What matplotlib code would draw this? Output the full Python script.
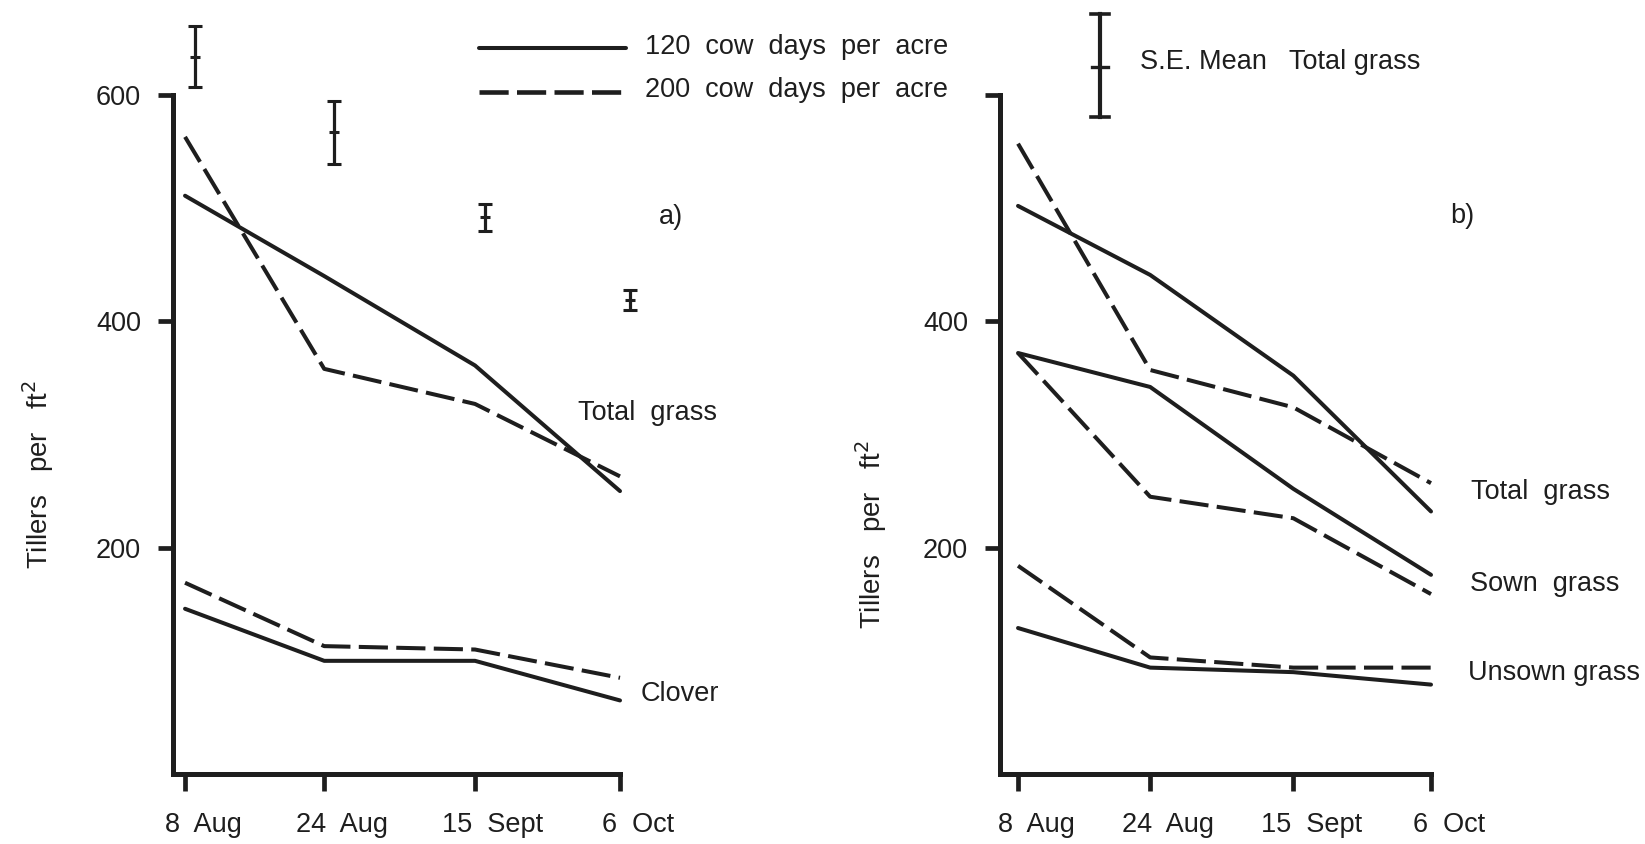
import matplotlib
matplotlib.use("Agg")
import matplotlib.pyplot as plt
import matplotlib.transforms as mtransforms
from matplotlib.lines import Line2D

plt.rcParams["font.family"] = ["Liberation Sans", "DejaVu Sans"]
plt.rcParams["lines.scale_dashes"] = False

INK = "#1e1e1e"
DATES = ["8  Aug", "24  Aug", "15  Sept", "6  Oct"]
DATE_POS = [0, 0.96, 2.0, 3.0]

# a) tillers per sq ft, total grass and clover
TOTAL_120_A = [511, 440, 361, 250]
TOTAL_200_A = [563, 358, 327, 263]
CLOVER_120 = [146, 100, 100, 65]
CLOVER_200 = [169, 113, 110, 85]

# S.E. of mean, total grass: centre and half length
SE_MID = [634, 567, 492, 419]
SE_HALF = [27, 28, 12, 9]

# b) total grass split into sown / unsown
TOTAL_120_B = [502, 441, 352, 232]
TOTAL_200_B = [557, 357, 324, 257]
SOWN_120 = [372, 342, 252, 176]
SOWN_200 = [372, 245, 226, 159]
UNSOWN_120 = [129, 94, 90, 79]
UNSOWN_200 = [184, 103, 94, 94]

W, H = 1645, 844
DASH = (21, 6)
LW = 2.9
FS = 19.5

fig = plt.figure(figsize=(W / 100, H / 100), dpi=100)
fig.patch.set_facecolor("white")


def px_axes(x0, x1, y0, y1):
    return fig.add_axes([x0 / W, 1 - y1 / H, (x1 - x0) / W, (y1 - y0) / H])


def style(ax, xlim, ylabels):
    ax.set_xlim(*xlim)
    ax.set_ylim(0, 600)
    for s in ("top", "right"):
        ax.spines[s].set_visible(False)
    for s in ("left", "bottom"):
        ax.spines[s].set_linewidth(3.6)
        ax.spines[s].set_color(INK)
        ax.spines[s].set_capstyle("projecting")
    ax.set_xticks(DATE_POS)
    ax.set_xticklabels(DATES, fontsize=FS, color=INK)
    ax.set_yticks([600, 400, 200])
    ax.set_yticklabels(ylabels, fontsize=FS, color=INK)
    ax.tick_params(axis="x", direction="out", length=12, width=3.4, pad=15, colors=INK)
    ax.tick_params(axis="y", direction="out", length=11, width=3.4, pad=12, colors=INK)
    # date labels sit a little right of their ticks
    shift = mtransforms.ScaledTranslation(18 / 100, 0, fig.dpi_scale_trans)
    for lab in ax.get_xticklabels():
        lab.set_transform(lab.get_transform() + shift)
    ax.set_ylabel("Tillers   per   ft$^2$", fontsize=FS + 0.5, color=INK)
    ax.patch.set_alpha(0)


def pair(ax, solid, dashed):
    ax.plot(DATE_POS, solid, color=INK, lw=LW, solid_capstyle="round",
            solid_joinstyle="round", clip_on=False)
    ax.plot(DATE_POS, dashed, color=INK, lw=LW, dashes=DASH,
            dash_capstyle="butt", clip_on=False)


# panel a
ax_a = px_axes(173, 620, 95, 774)
style(ax_a, (-0.083, 3.0), ["600", "400", "200"])
pair(ax_a, TOTAL_120_A, TOTAL_200_A)
pair(ax_a, CLOVER_120, CLOVER_200)
se_x = [v + 0.07 for v in DATE_POS]
eb = ax_a.errorbar(se_x, SE_MID, yerr=SE_HALF, fmt="none", ecolor=INK,
                   elinewidth=2.3, capsize=5, capthick=2.2)
for art in eb.lines[1] + eb.lines[2]:
    art.set_clip_on(False)
ax_a.plot(se_x, SE_MID, ls="none", marker="_", ms=7, mew=2.2, color=INK, clip_on=False)
ax_a.text(2.71, 319, "Total  grass", fontsize=FS, va="center", color=INK)
ax_a.text(3.14, 71, "Clover", fontsize=FS, va="center", color=INK)
ax_a.text(3.35, 492, "a)", fontsize=FS, ha="center", va="center", color=INK)
ax_a.yaxis.set_label_coords(-0.262, 0.44)

# panel b
ax_b = px_axes(1000, 1431, 95, 774)
style(ax_b, (-0.131, 3.0), ["", "400", "200"])
pair(ax_b, TOTAL_120_B, TOTAL_200_B)
pair(ax_b, SOWN_120, SOWN_200)
pair(ax_b, UNSOWN_120, UNSOWN_200)
ax_b.text(3.29, 249, "Total  grass", fontsize=FS, va="center", color=INK)
ax_b.text(3.28, 168, "Sown  grass", fontsize=FS, va="center", color=INK)
ax_b.text(3.27, 89, "Unsown grass", fontsize=FS, va="center", color=INK)
ax_b.text(3.23, 493, "b)", fontsize=FS, ha="center", va="center", color=INK)
ax_b.yaxis.set_label_coords(-0.258, 0.353)

# key, drawn in figure pixels
key = fig.add_axes([0, 0, 1, 1])
key.set_xlim(0, W)
key.set_ylim(H, 0)
key.axis("off")
key.patch.set_alpha(0)
key.add_line(Line2D([479, 626], [48, 48], color=INK, lw=LW, solid_capstyle="round"))
key.add_line(Line2D([479, 626], [92, 92], color=INK, lw=LW + 0.4, dashes=DASH))
key.text(645, 47, "120  cow  days  per  acre", fontsize=FS, va="center", color=INK)
key.text(645, 90, "200  cow  days  per  acre", fontsize=FS, va="center", color=INK)

key.add_line(Line2D([1100, 1100], [14, 117], color=INK, lw=3))
for yy in (14, 117):
    key.add_line(Line2D([1091, 1109], [yy, yy], color=INK, lw=2.6))
key.add_line(Line2D([1092, 1108], [67, 67], color=INK, lw=2.4))
key.text(1140, 62, "S.E. Mean   Total grass", fontsize=FS, va="center", color=INK)

fig.savefig("out.png", dpi=100, facecolor="white")
